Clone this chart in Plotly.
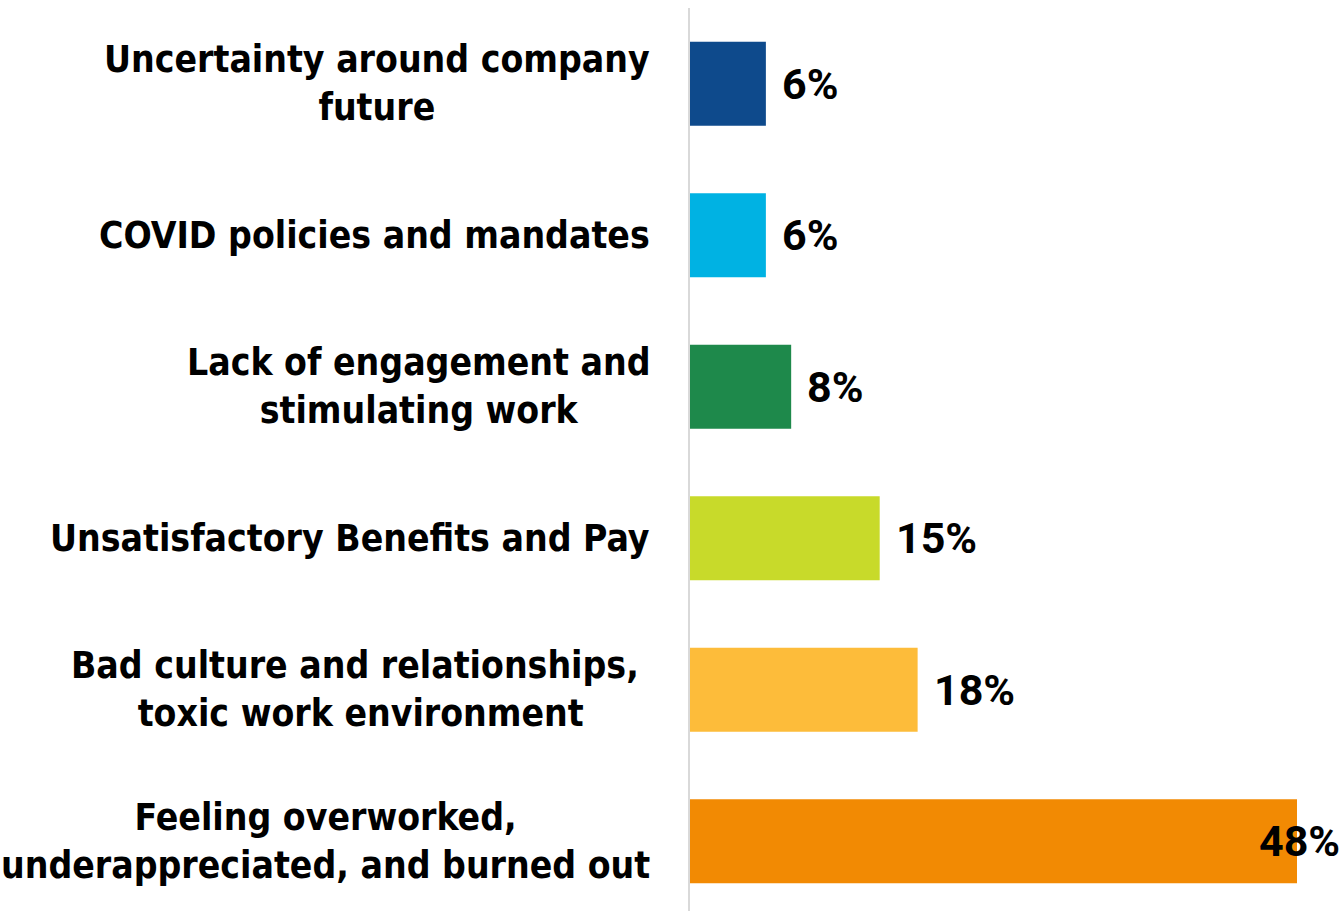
import plotly.graph_objects as go

# Reasons for leaving, top to bottom
reasons = [
    "Uncertainty around company<br>future",
    "COVID policies and mandates",
    "Lack of engagement and<br>stimulating work",
    "Unsatisfactory Benefits and Pay",
    "Bad culture and relationships,\u00a0<br>toxic work environment",
    "Feeling overworked,<br>underappreciated, and burned out",
]
shares = [6, 6, 8, 15, 18, 48]
bar_colors = ["#0E4A8C", "#00B2E3", "#1E894B", "#C8DA2A", "#FDBC3A", "#F28A03"]
value_labels = [f"{v}%" for v in shares]

LABEL_FONT = "DejaVu Sans Condensed"
VALUE_FONT = "Roboto"
positions = list(range(len(reasons)))

fig = go.Figure(
    go.Bar(
        x=shares,
        y=positions,
        orientation="h",
        marker=dict(color=bar_colors, line=dict(width=0)),
        width=0.555,
        hoverinfo="skip",
    )
)

# Category labels: right-aligned block, lines centred within it
for pos, text in zip(positions, reasons):
    fig.add_annotation(
        x=0, xref="paper", y=pos, yref="y",
        text=text, showarrow=False,
        xanchor="right", yanchor="middle", align="center",
        xshift=-38,
        font=dict(family=LABEL_FONT, size=37, color="#000000", weight="bold"),
    )

# Value labels next to the bar ends
for pos, v, lab in zip(positions, shares, value_labels):
    last = v == max(shares)
    fig.add_annotation(
        x=v, xref="x", y=pos, yref="y",
        text=lab, showarrow=False,
        xanchor="right" if last else "left", yanchor="middle",
        xshift=45 if last else 14,
        font=dict(family=VALUE_FONT, size=43, color="#000000", weight="bold"),
    )

fig.update_layout(
    width=1344,
    height=911,
    margin=dict(l=690, r=47, t=8, b=0),
    paper_bgcolor="white",
    plot_bgcolor="white",
    showlegend=False,
    xaxis=dict(range=[0, 48], visible=False, showgrid=False, zeroline=False),
    yaxis=dict(
        range=[5.46, -0.5],
        showticklabels=False,
        showgrid=False,
        zeroline=False,
        showline=True,
        linecolor="#D9D9D9",
        linewidth=2,
        ticks="",
    ),
)

fig.write_html("out.html")
